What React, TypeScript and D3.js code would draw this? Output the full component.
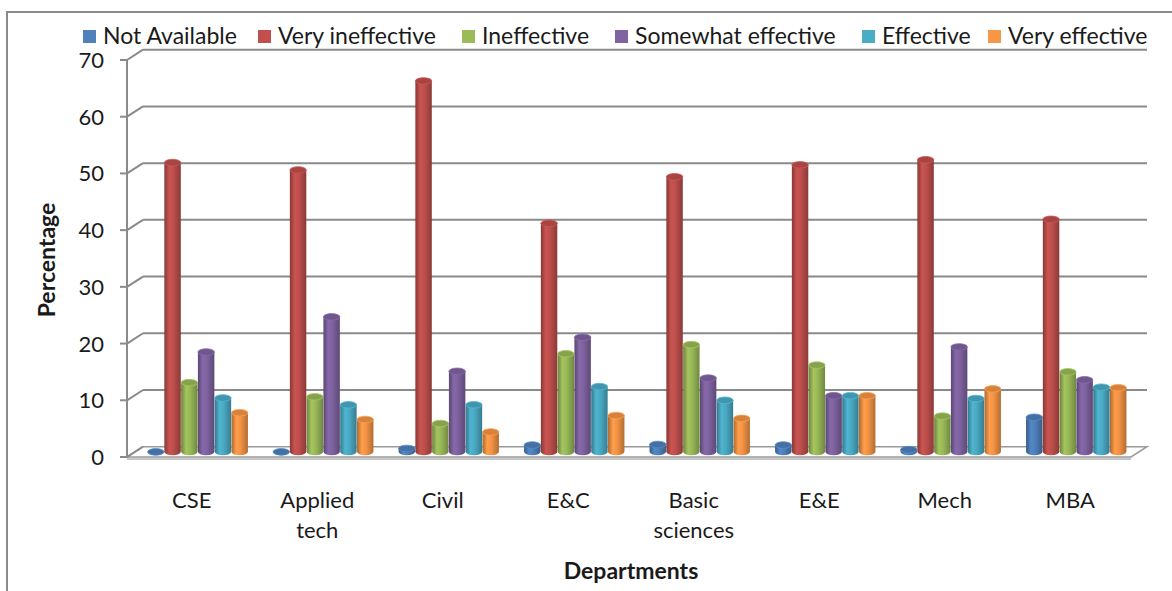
import * as d3 from "d3";

// departments (label lines)
const departments = ["CSE", "Applied tech", "Civil", "E&C", "Basic sciences", "E&E", "Mech", "MBA"];
const departmentLines = [["CSE"], ["Applied", "tech"], ["Civil"], ["E&C"], ["Basic", "sciences"], ["E&E"], ["Mech"], ["MBA"]];

const seriesNames = ["Not Available", "Very ineffective", "Ineffective", "Somewhat effective", "Effective", "Very effective"];
const seriesColors = ["#4F81BD", "#C0504D", "#9BBB59", "#8064A2", "#4BACC6", "#F79646"];

// values, in percent
const notAvailable = [0, 0, 0.6, 1.2, 1.3, 1.2, 0.4, 6.1];
const veryIneffective = [51.0, 49.7, 65.4, 40.3, 48.5, 50.6, 51.5, 41.0];
const ineffective = [12.2, 9.7, 5.0, 17.3, 18.9, 15.3, 6.3, 14.1];
const somewhatEffective = [17.6, 23.8, 14.2, 20.2, 13.0, 9.9, 18.5, 12.7];
const effective = [9.5, 8.3, 8.3, 11.5, 9.1, 9.9, 9.4, 11.4];
const veryEffective = [6.9, 5.7, 3.5, 6.4, 5.9, 9.9, 11.1, 11.3];

const yTicks = [0, 10, 20, 30, 40, 50, 60, 70];

const seriesValues = [notAvailable, veryIneffective, ineffective, somewhatEffective, effective, veryEffective];

const width = 1172;
const height = 591;
const font = "Lato, 'Open Sans', sans-serif";
const textColor = "#1a1a1a";

// 3d depth of the plot (back wall offset)
const depthX = 16;
const depthY = -10.3;

// legend square positions
const legendX = [83, 258, 462, 615, 862, 988];

export default function App() {
  const y = d3.scaleLinear().domain([0, 70]).range([457, 60]);
  const x = d3.scaleBand<string>()
    .domain(departments)
    .range([127, 1131])
    .paddingInner(0.195)
    .paddingOuter(0.0975);
  const xi = d3.scaleBand<string>()
    .domain(seriesNames)
    .range([0, x.bandwidth()])
    .padding(0.02);

  const bw = xi.bandwidth();
  const rx = bw / 2;
  const ry = bw * 0.2;
  const base = y(0) + depthY / 2;

  const [x0, x1] = x.range();

  return (
    <svg width={width} height={height} style={{ position: "absolute", left: 0, top: 0, background: "#fff" }}>
      <defs>
        {seriesColors.map((c, i) => (
          <linearGradient key={i} id={`cyl${i}`} x1="0" x2="1" y1="0" y2="0">
            <stop offset="0%" stopColor={d3.color(c)!.darker(1).toString()} />
            <stop offset="30%" stopColor={d3.color(c)!.brighter(0.15).toString()} />
            <stop offset="55%" stopColor={d3.color(c)!.darker(0.05).toString()} />
            <stop offset="100%" stopColor={d3.color(c)!.darker(0.9).toString()} />
          </linearGradient>
        ))}
      </defs>

      {/* outer border */}
      <rect x={7} y={12} width={width + 10} height={height + 10} fill="none" stroke="#8a8a8a" strokeWidth={2} />

      {/* legend */}
      <g fontFamily={font} fontSize={23} fill={textColor}>
        {seriesNames.map((s, i) => (
          <g key={s}>
            <rect x={legendX[i]} y={30} width={13} height={13} fill={seriesColors[i]} />
            <text x={legendX[i] + 20} y={44}>{s}</text>
          </g>
        ))}
      </g>

      {/* floor */}
      <polygon
        points={`${x0},${y(0)} ${x1},${y(0)} ${x1 + depthX},${y(0) + depthY} ${x0 + depthX},${y(0) + depthY}`}
        fill="#fff" stroke="#9a9a9a" strokeWidth={1.5}
      />
      <line x1={x0} x2={x1} y1={y(0) + 2} y2={y(0) + 2} stroke="#b5b5b5" strokeWidth={1.5} />

      {/* gridlines on back wall and side connectors */}
      <g stroke="#8a8a8a" strokeWidth={2} fill="none">
        {yTicks.map((t) => (
          <g key={t}>
            {t > 0 && <line x1={x0 + depthX} x2={x1 + depthX} y1={y(t) + depthY} y2={y(t) + depthY} />}
            <line x1={x0} x2={x0 + depthX} y1={y(t)} y2={y(t) + depthY} />
            <line x1={x0 - 7} x2={x0} y1={y(t)} y2={y(t)} />
          </g>
        ))}
        <line x1={x0} x2={x0} y1={y(70)} y2={y(0)} />
      </g>

      {/* y tick labels */}
      <g fontFamily={font} fontSize={22} fill={textColor} textAnchor="end">
        {yTicks.map((t) => (
          <text key={t} x={104} y={y(t) + 8}>{t}</text>
        ))}
      </g>

      {/* cylinders */}
      {departments.map((dep, di) => (
        <g key={dep}>
          {seriesNames.map((s, si) => {
            const v = seriesValues[si][di];
            const cx = x(dep)! + xi(s)! + bw / 2 + depthX / 2;
            const top = y(v) + depthY / 2;
            const c = seriesColors[si];
            return (
              <g key={s}>
                <path
                  d={`M${cx - rx},${top} L${cx - rx},${base} A${rx},${ry} 0 0 0 ${cx + rx},${base} L${cx + rx},${top} Z`}
                  fill={`url(#cyl${si})`}
                />
                <ellipse cx={cx} cy={top} rx={rx} ry={ry}
                  fill={d3.color(c)!.darker(0.4).toString()}
                  stroke={d3.color(c)!.brighter(0.2).toString()} strokeWidth={0.8} />
              </g>
            );
          })}
        </g>
      ))}

      {/* category labels */}
      <g fontFamily={font} fontSize={22} fill={textColor} textAnchor="middle">
        {departments.map((dep, di) => (
          <text key={dep} x={x(dep)! + x.bandwidth() / 2 + 2} y={508}>
            {departmentLines[di].map((l, li) => (
              <tspan key={li} x={x(dep)! + x.bandwidth() / 2 + 2} dy={li === 0 ? 0 : 30}>{l}</tspan>
            ))}
          </text>
        ))}
      </g>

      {/* axis titles */}
      <text x={631} y={579} textAnchor="middle" fontFamily={font} fontSize={23} fontWeight="bold" fill={textColor}>
        Departments
      </text>
      <text transform="translate(55,260) rotate(-90)" textAnchor="middle" fontFamily={font} fontSize={23} fontWeight="bold" fill={textColor}>
        Percentage
      </text>
    </svg>
  );
}
